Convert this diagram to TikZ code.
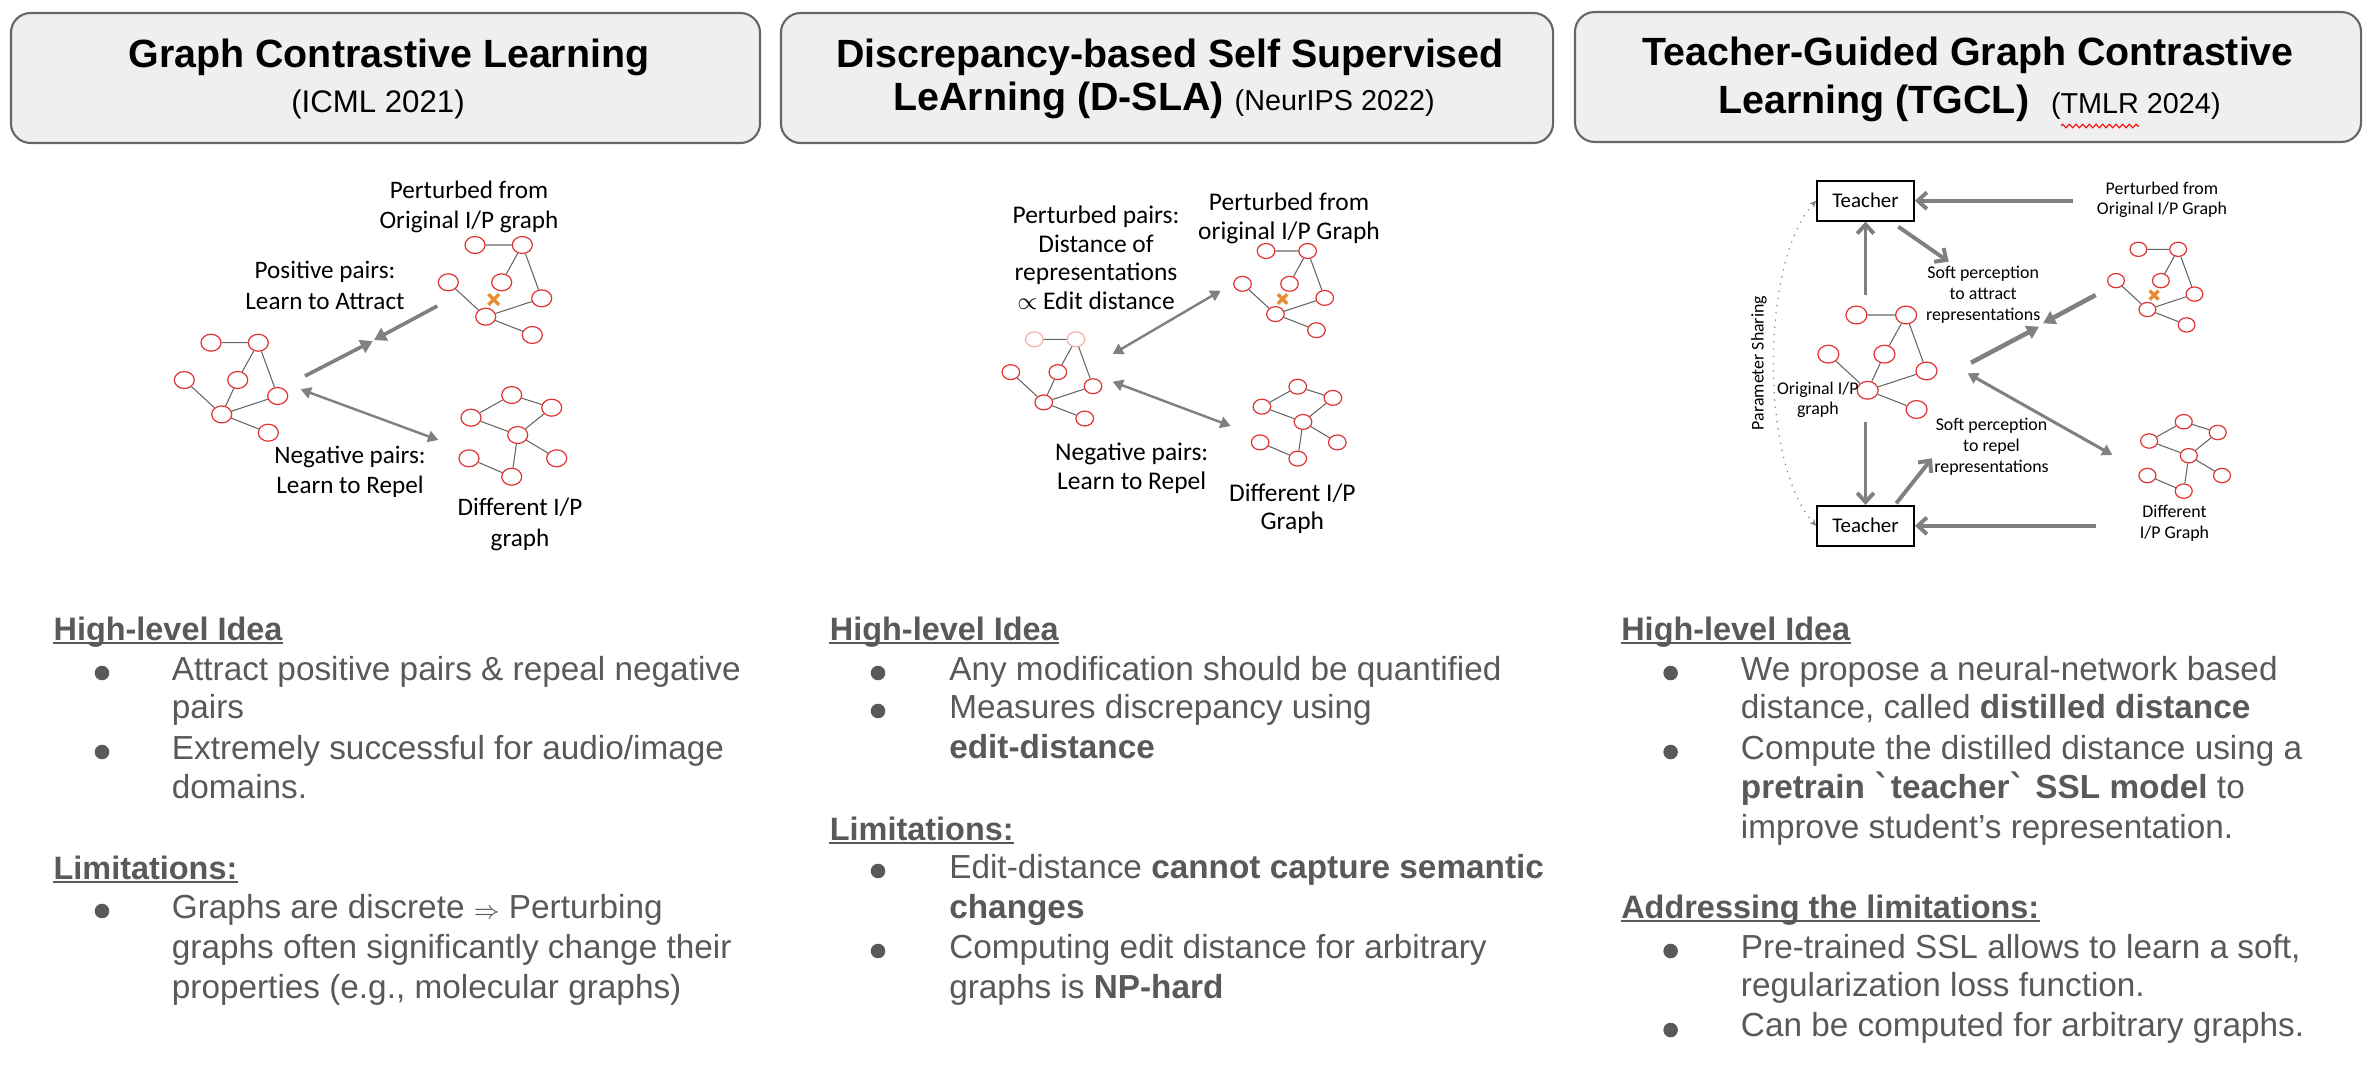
\documentclass[tikz,border=0pt]{standalone}
\usepackage{fontspec}
\setmainfont{Liberation Sans}
\newfontfamily\calib{Carlito}
\newfontfamily\djv{DejaVu Sans}
\usetikzlibrary{shapes.geometric,shapes.misc,arrows.meta,decorations.pathmorphing}

\definecolor{nodered}{RGB}{224,52,52}
\definecolor{txtgray}{RGB}{89,89,89}
\definecolor{arrgray}{RGB}{128,128,128}
\definecolor{boxfill}{RGB}{239,239,239}
\definecolor{boxline}{RGB}{102,102,102}
\definecolor{xorange}{RGB}{230,140,50}

% the same little graph is used three times
\newcommand\basegraph[2][]{%
  \node[gnode,#1] (#2-1) at (0,0) {};
  \node[gnode,#1] (#2-2) at (47.3,0) {};
  \node[gnode] (#2-3) at (-26.7,37.3) {};
  \node[gnode] (#2-4) at (26.7,37.3) {};
  \node[gnode] (#2-5) at (66.7,53.3) {};
  \node[gnode] (#2-6) at (10.7,71.7) {};
  \node[gnode] (#2-7) at (57.3,90) {};
  \draw[gedge] (#2-1) -- (#2-2) (#2-2) -- (#2-4) (#2-2) -- (#2-5)
    (#2-3) -- (#2-6) (#2-6) -- (#2-5) (#2-6) -- (#2-7);
}
\newcommand\origgraph[2][]{%
  \basegraph[#1]{#2}
  \draw[gedge] (#2-4) -- (#2-6);
}
\newcommand\pertgraph[1]{%
  \basegraph{#1}
  \node[cutmark] (#1-x) at (18.7,54.5) {};
}
\newcommand\diffgraph[1]{%
  \node[gnode] (#1-1) at (0,0) {};
  \node[gnode] (#1-2) at (-40.7,22.7) {};
  \node[gnode] (#1-3) at (40,12.7) {};
  \node[gnode] (#1-4) at (6,40) {};
  \node[gnode] (#1-5) at (-42.7,63.3) {};
  \node[gnode] (#1-6) at (45,63.3) {};
  \node[gnode] (#1-7) at (0,81.7) {};
  \draw[gedge] (#1-1) -- (#1-2) (#1-1) -- (#1-3) (#1-2) -- (#1-4) (#1-3) -- (#1-4)
    (#1-4) -- (#1-6) (#1-4) -- (#1-7) (#1-5) -- (#1-7);
}

\tikzset{
  gnode/.style={ellipse, draw=nodered, line width=0.4pt, minimum width=6.6pt,
    minimum height=5.6pt, inner sep=0pt},
  faded/.style={draw=nodered!40},
  gedge/.style={draw=black!60, line width=0.35pt},
  cutmark/.style={cross out, draw=xorange, line width=1.1pt, minimum size=2.4pt, inner sep=0pt},
  titlebox/.style={draw=boxline, fill=boxfill, rounded corners=6.5pt, line width=0.7pt},
  ttl/.style={font=\bfseries\fontsize{13}{15}\selectfont, inner sep=0pt, anchor=base},
  lbl/.style={font=\calib\fontsize{8.3}{10.1}\selectfont, align=center, inner sep=0pt},
  lblm/.style={font=\calib\fontsize{8.4}{9.45}\selectfont, align=center, inner sep=0pt},
  lbls/.style={font=\calib\fontsize{5.9}{6.8}\selectfont, align=center, inner sep=0pt},
  tbox/.style={draw=black, line width=0.6pt, font=\calib\fontsize{6.9}{8}\selectfont,
    minimum width=32pt, minimum height=13.2pt, inner sep=0pt},
  fatarrow/.style={draw=arrgray, line width=1.2pt, -{Triangle[length=4pt,width=4.6pt]}},
  pairarrow/.style={draw=arrgray, line width=0.8pt,
    {Triangle[length=3.4pt,width=3.8pt]}-{Triangle[length=3.4pt,width=3.8pt]}},
  barbarrow/.style={draw=arrgray, line width=1.3pt, -{Straight Barb[length=3pt,width=5.5pt]}},
  psharing/.style={draw=arrgray, dotted, line width=0.4pt,
    {Stealth[length=2.2pt,width=2pt]}-{Stealth[length=2.2pt,width=2pt]}},
  body/.style={font=\fontsize{11}{13}\selectfont, text=txtgray, anchor=base west, inner sep=0pt},
  head/.style={body, font=\bfseries\fontsize{10.7}{13}\selectfont},
  bdot/.style={circle, fill=txtgray, minimum size=4.8pt, inner sep=0pt},
  uline/.style={draw=txtgray, line width=0.6pt},
}

\begin{document}
\begin{tikzpicture}[x=0.33pt,y=-0.33pt]
  \useasboundingbox (0,0) rectangle (2378,1064);

  % ---------- title boxes ----------
  \node[titlebox, minimum width=247.2pt, minimum height=42.9pt] (tb1) at (385.5,78) {};
  \node[titlebox, minimum width=254.8pt, minimum height=42.9pt] (tb2) at (1167,78) {};
  \node[titlebox, minimum width=259.4pt, minimum height=42.9pt] (tb3) at (1968,77) {};

  \node[ttl] (tt1) at (389,67) {Graph Contrastive Learning};
  \node[ttl, font=\fontsize{10.3}{12}\selectfont] (tt1b) at (378,112.7) {(ICML 2021)};
  \node[ttl] (tt2) at (1170,67) {Discrepancy-based Self Supervised};
  \node[ttl] (tt2b) at (1164,110)
    {LeArning (D-SLA) {\mdseries\fontsize{9.5}{11}\selectfont (NeurIPS 2022)}};
  \node[ttl] (tt3) at (1968,65) {Teacher-Guided Graph Contrastive};
  \node[ttl] (tt3b) at (1969.5,113.3)
    {Learning (TGCL)\ \ {\mdseries\fontsize{9.5}{11}\selectfont (TMLR 2024)}};
  \draw[red, line width=0.35pt, decorate,
    decoration={zigzag, segment length=2.2pt, amplitude=0.6pt}] (2061,126) -- (2139,126);

  % ---------- left: contrastive learning ----------
  \begin{scope}[shift={(211,342.7)}, transform shape]
    \origgraph{ga}
  \end{scope}
  \begin{scope}[shift={(475,245)}, transform shape]
    \pertgraph{gb}
  \end{scope}
  \begin{scope}[shift={(511.7,395)}, transform shape]
    \diffgraph{gc}
  \end{scope}

  \coordinate (a1s) at (305,376);
  \coordinate (a1e) at (372.7,341);
  \coordinate (a2s) at (437.3,306);
  \coordinate (a2e) at (374,340);
  \coordinate (r1s) at (300.7,389.3);
  \coordinate (r1e) at (438.3,440);
  \draw[fatarrow] (a1s) -- (a1e);
  \draw[fatarrow] (a2s) -- (a2e);
  \draw[pairarrow] (r1s) -- (r1e);

  \node[lbl] (l1pert) at (469,207) {Perturbed from\\Original I/P graph};
  \node[lbl] (l1pos) at (325,285.3) {Positive pairs:\\Learn to Attract};
  \node[lbl] (l1neg) at (350,472) {Negative pairs:\\Learn to Repel};
  \node[lbl] (l1diff) at (520,524.7) {Different I/P\\graph};

  % ---------- middle: D-SLA ----------
  \begin{scope}[shift={(1034.3,339.3)}, scale=0.88, transform shape]
    \origgraph[faded]{ha}
  \end{scope}
  \begin{scope}[shift={(1266,251)}, scale=0.88, transform shape]
    \pertgraph{hb}
  \end{scope}
  \begin{scope}[shift={(1297.7,386.7)}, scale=0.88, transform shape]
    \diffgraph{hc}
  \end{scope}

  \coordinate (p2s) at (1112.7,354);
  \coordinate (p2e) at (1220.7,290.7);
  \coordinate (r2s) at (1112.7,381.7);
  \coordinate (r2e) at (1230.7,426);
  \draw[pairarrow] (p2s) -- (p2e);
  \draw[pairarrow] (r2s) -- (r2e);

  \node[lblm] (l2pp) at (1096,257.9)
    {Perturbed pairs:\\Distance of\\representations\\$\propto$ Edit distance};
  \node[lblm] (l2pert) at (1289,218.5) {Perturbed from\\original I/P Graph};
  \node[lblm] (l2neg) at (1131.7,468.3) {Negative pairs:\\Learn to Repel};
  \node[lblm] (l2diff) at (1292.3,508.8) {Different I/P\\Graph};

  % ---------- right: TGCL ----------
  \begin{scope}[shift={(1856.4,315)}, scale=1.05, transform shape]
    \origgraph{ka}
  \end{scope}
  \begin{scope}[shift={(2138.4,249.3)}, scale=0.84, transform shape]
    \pertgraph{kb}
  \end{scope}
  \begin{scope}[shift={(2183.7,421.7)}, scale=0.85, transform shape]
    \diffgraph{kc}
  \end{scope}

  \node[tbox] (t1) at (1865.5,200.7) {Teacher};
  \node[tbox] (t2) at (1865.5,525.8) {Teacher};

  \coordinate (pin) at (2072.5,200.7);
  \coordinate (din) at (2095.6,525.8);
  \coordinate (oup) at (1865.5,295);
  \coordinate (odn) at (1865.5,421.7);
  \coordinate (t1o) at (1898.3,226.7);
  \coordinate (t1e) at (1948.7,261.7);
  \coordinate (t2o) at (1896.2,503.3);
  \coordinate (t2e) at (1932,458.3);
  \coordinate (a3s) at (1971,362.7);
  \coordinate (a3e) at (2039,326.7);
  \coordinate (a4s) at (2095.6,295);
  \coordinate (a4e) at (2043,323.3);
  \coordinate (r3s) at (1967.6,373.3);
  \coordinate (r3e) at (2112.4,455);

  \draw[barbarrow] (pin) -- (t1.east);
  \draw[barbarrow] (din) -- (t2.east);
  \draw[barbarrow] (oup) -- (t1.south);
  \draw[barbarrow] (odn) -- (t2.north);
  \draw[barbarrow] (t1o) -- (t1e);
  \draw[barbarrow] (t2o) -- (t2e);
  \draw[fatarrow, line width=1.5pt] (a3s) -- (a3e);
  \draw[fatarrow, line width=1.5pt] (a4s) -- (a4e);
  \draw[pairarrow, line width=1pt] (r3s) -- (r3e);
  \draw[psharing] (t1.west) .. controls (1760,262) and (1760,464) .. (t2.west);

  \node[lbls, rotate=90] (l3ps) at (1759,363) {Parameter Sharing};
  \node[lbls] (l3pert) at (2161.9,199.7) {Perturbed from\\Original I/P Graph};
  \node[lbls] (l3att) at (1983.1,294.7) {Soft perception\\to attract\\representations};
  \node[lbls] (l3rep) at (1991.5,446.7) {Soft perception\\to repel\\representations};
  \node[lbls] (l3orig) at (1817.8,399.7) {Original I/P\\graph};
  \node[lbls] (l3diff) at (2174.5,523.5) {Different\\I/P Graph};

  % ---------- bottom text, left ----------
  \node[head] (c1h1) at (53,640) {High-level Idea};
  \node[bdot] (c1d1) at (102,673) {};
  \node[body] (c1l1) at (171.3,680) {Attract positive pairs \& repeal negative};
  \node[body] (c1l2) at (171.3,718.3) {pairs};
  \node[bdot] (c1d2) at (102,752) {};
  \node[body] (c1l3) at (171.3,759.3) {Extremely successful for audio/image};
  \node[body] (c1l4) at (171.3,798.3) {domains.};
  \node[head] (c1h2) at (53,879.3) {Limitations:};
  \node[bdot] (c1d3) at (102,911) {};
  \node[body] (c1l5) at (171.3,918.3) {Graphs are discrete $\scriptstyle\Rightarrow$ Perturbing};
  \node[body] (c1l6) at (171.3,958.3) {graphs often significantly change their};
  \node[body] (c1l7) at (171.3,998.3) {properties (e.g., molecular graphs)};

  % ---------- bottom text, middle ----------
  \node[head] (c2h1) at (829.3,640) {High-level Idea};
  \node[bdot] (c2d1) at (878,673) {};
  \node[body] (c2l1) at (948.7,680) {Any modification should be quantified};
  \node[bdot] (c2d2) at (878,711) {};
  \node[body] (c2l2) at (948.7,718.3) {Measures discrepancy using};
  \node[body] (c2l3) at (948.7,758.3) {\textbf{edit-distance}};
  \node[head] (c2h2) at (829.3,840) {Limitations:};
  \node[bdot] (c2d3) at (878,871) {};
  \node[body] (c2l4) at (948.7,878.3) {Edit-distance \textbf{cannot capture semantic}};
  \node[body] (c2l5) at (948.7,918.3) {\textbf{changes}};
  \node[bdot] (c2d4) at (878,951) {};
  \node[body] (c2l6) at (948.7,958.3) {Computing edit distance for arbitrary};
  \node[body] (c2l7) at (948.7,998.3) {graphs is \textbf{NP-hard}};

  % ---------- bottom text, right ----------
  \node[head] (c3h1) at (1620.7,640) {High-level Idea};
  \node[bdot] (c3d1) at (1670.6,673) {};
  \node[body] (c3l1) at (1740.3,680) {We propose a neural-network based};
  \node[body] (c3l2) at (1740.3,718.3) {distance, called \textbf{distilled distance}};
  \node[bdot] (c3d2) at (1670.6,752) {};
  \node[body] (c3l3) at (1740.3,759.3) {Compute the distilled distance using a};
  \node[body] (c3l4) at (1740.3,798.3) {\textbf{pretrain {\djv ˋ}teacher{\djv ˋ} SSL model} to};
  \node[body] (c3l5) at (1740.3,838.3) {improve student’s representation.};
  \node[head] (c3h2) at (1620.7,918.3) {Addressing the limitations:};
  \node[bdot] (c3d3) at (1670.6,951) {};
  \node[body] (c3l6) at (1740.3,958.3) {Pre-trained SSL allows to learn a soft,};
  \node[body] (c3l7) at (1740.3,996.7) {regularization loss function.};
  \node[bdot] (c3d4) at (1670.6,1030) {};
  \node[body] (c3l8) at (1740.3,1036.7) {Can be computed for arbitrary graphs.};

  % underlines of the headings
  \foreach \h in {c1h1,c1h2,c2h1,c2h2,c3h1,c3h2}
    \draw[uline] ([yshift=-1pt]\h.base west) -- ([yshift=-1pt]\h.base east);

\end{tikzpicture}
\end{document}
